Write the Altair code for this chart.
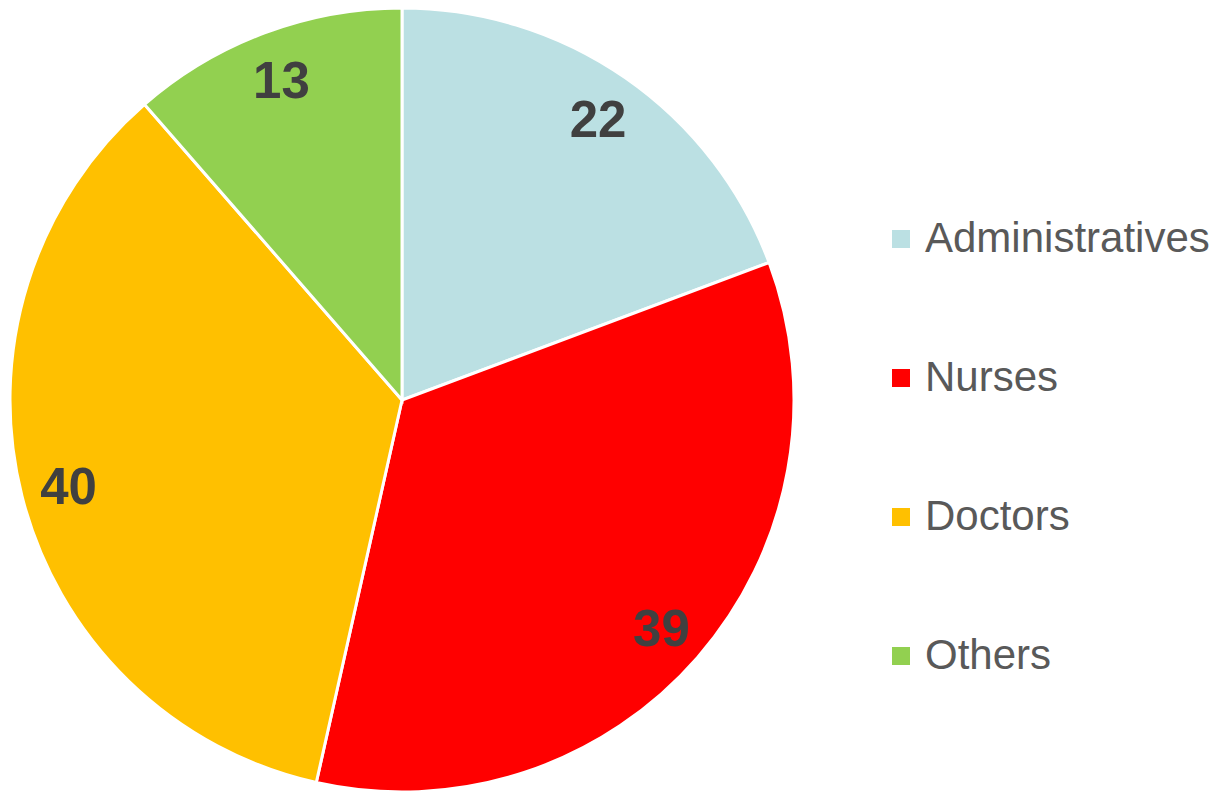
import altair as alt
import pandas as pd

categories = ["Administratives", "Nurses", "Doctors", "Others"]
values = [22, 39, 40, 13]
colors = ["#BBE0E3", "#FF0000", "#FFC000", "#92D050"]

df = pd.DataFrame({"cat": categories, "val": values, "ord": list(range(len(categories)))})

base = alt.Chart(df).encode(
    theta=alt.Theta("val:Q", stack=True),
    order=alt.Order("ord:Q"),
    x=alt.value(402),
    y=alt.value(400),
)

arcs = base.mark_arc(outerRadius=392, stroke="white", strokeWidth=3).encode(
    color=alt.Color(
        "cat:N",
        sort=categories,
        scale=alt.Scale(domain=categories, range=colors),
        legend=alt.Legend(
            title=None,
            orient="none",
            legendX=880,
            legendY=218,
            symbolType="square",
            symbolSize=324,
            symbolStrokeWidth=0,
            labelFontSize=42,
            labelFont="Liberation Sans",
            labelColor="#595959",
            labelOffset=3,
            labelLimit=400,
            rowPadding=97,
            padding=0,
        ),
    )
)

labels = base.mark_text(
    radius=344, dy=5, fontSize=51, fontWeight="bold", font="Liberation Sans", color="#404040"
).encode(text="val:Q")

chart = (arcs + labels).properties(
    width=1221, height=791, padding=0, autosize=alt.AutoSizeParams(type="none")
).configure_view(stroke=None)

chart.save("out.html", embed_options={"renderer": "svg", "actions": False})
